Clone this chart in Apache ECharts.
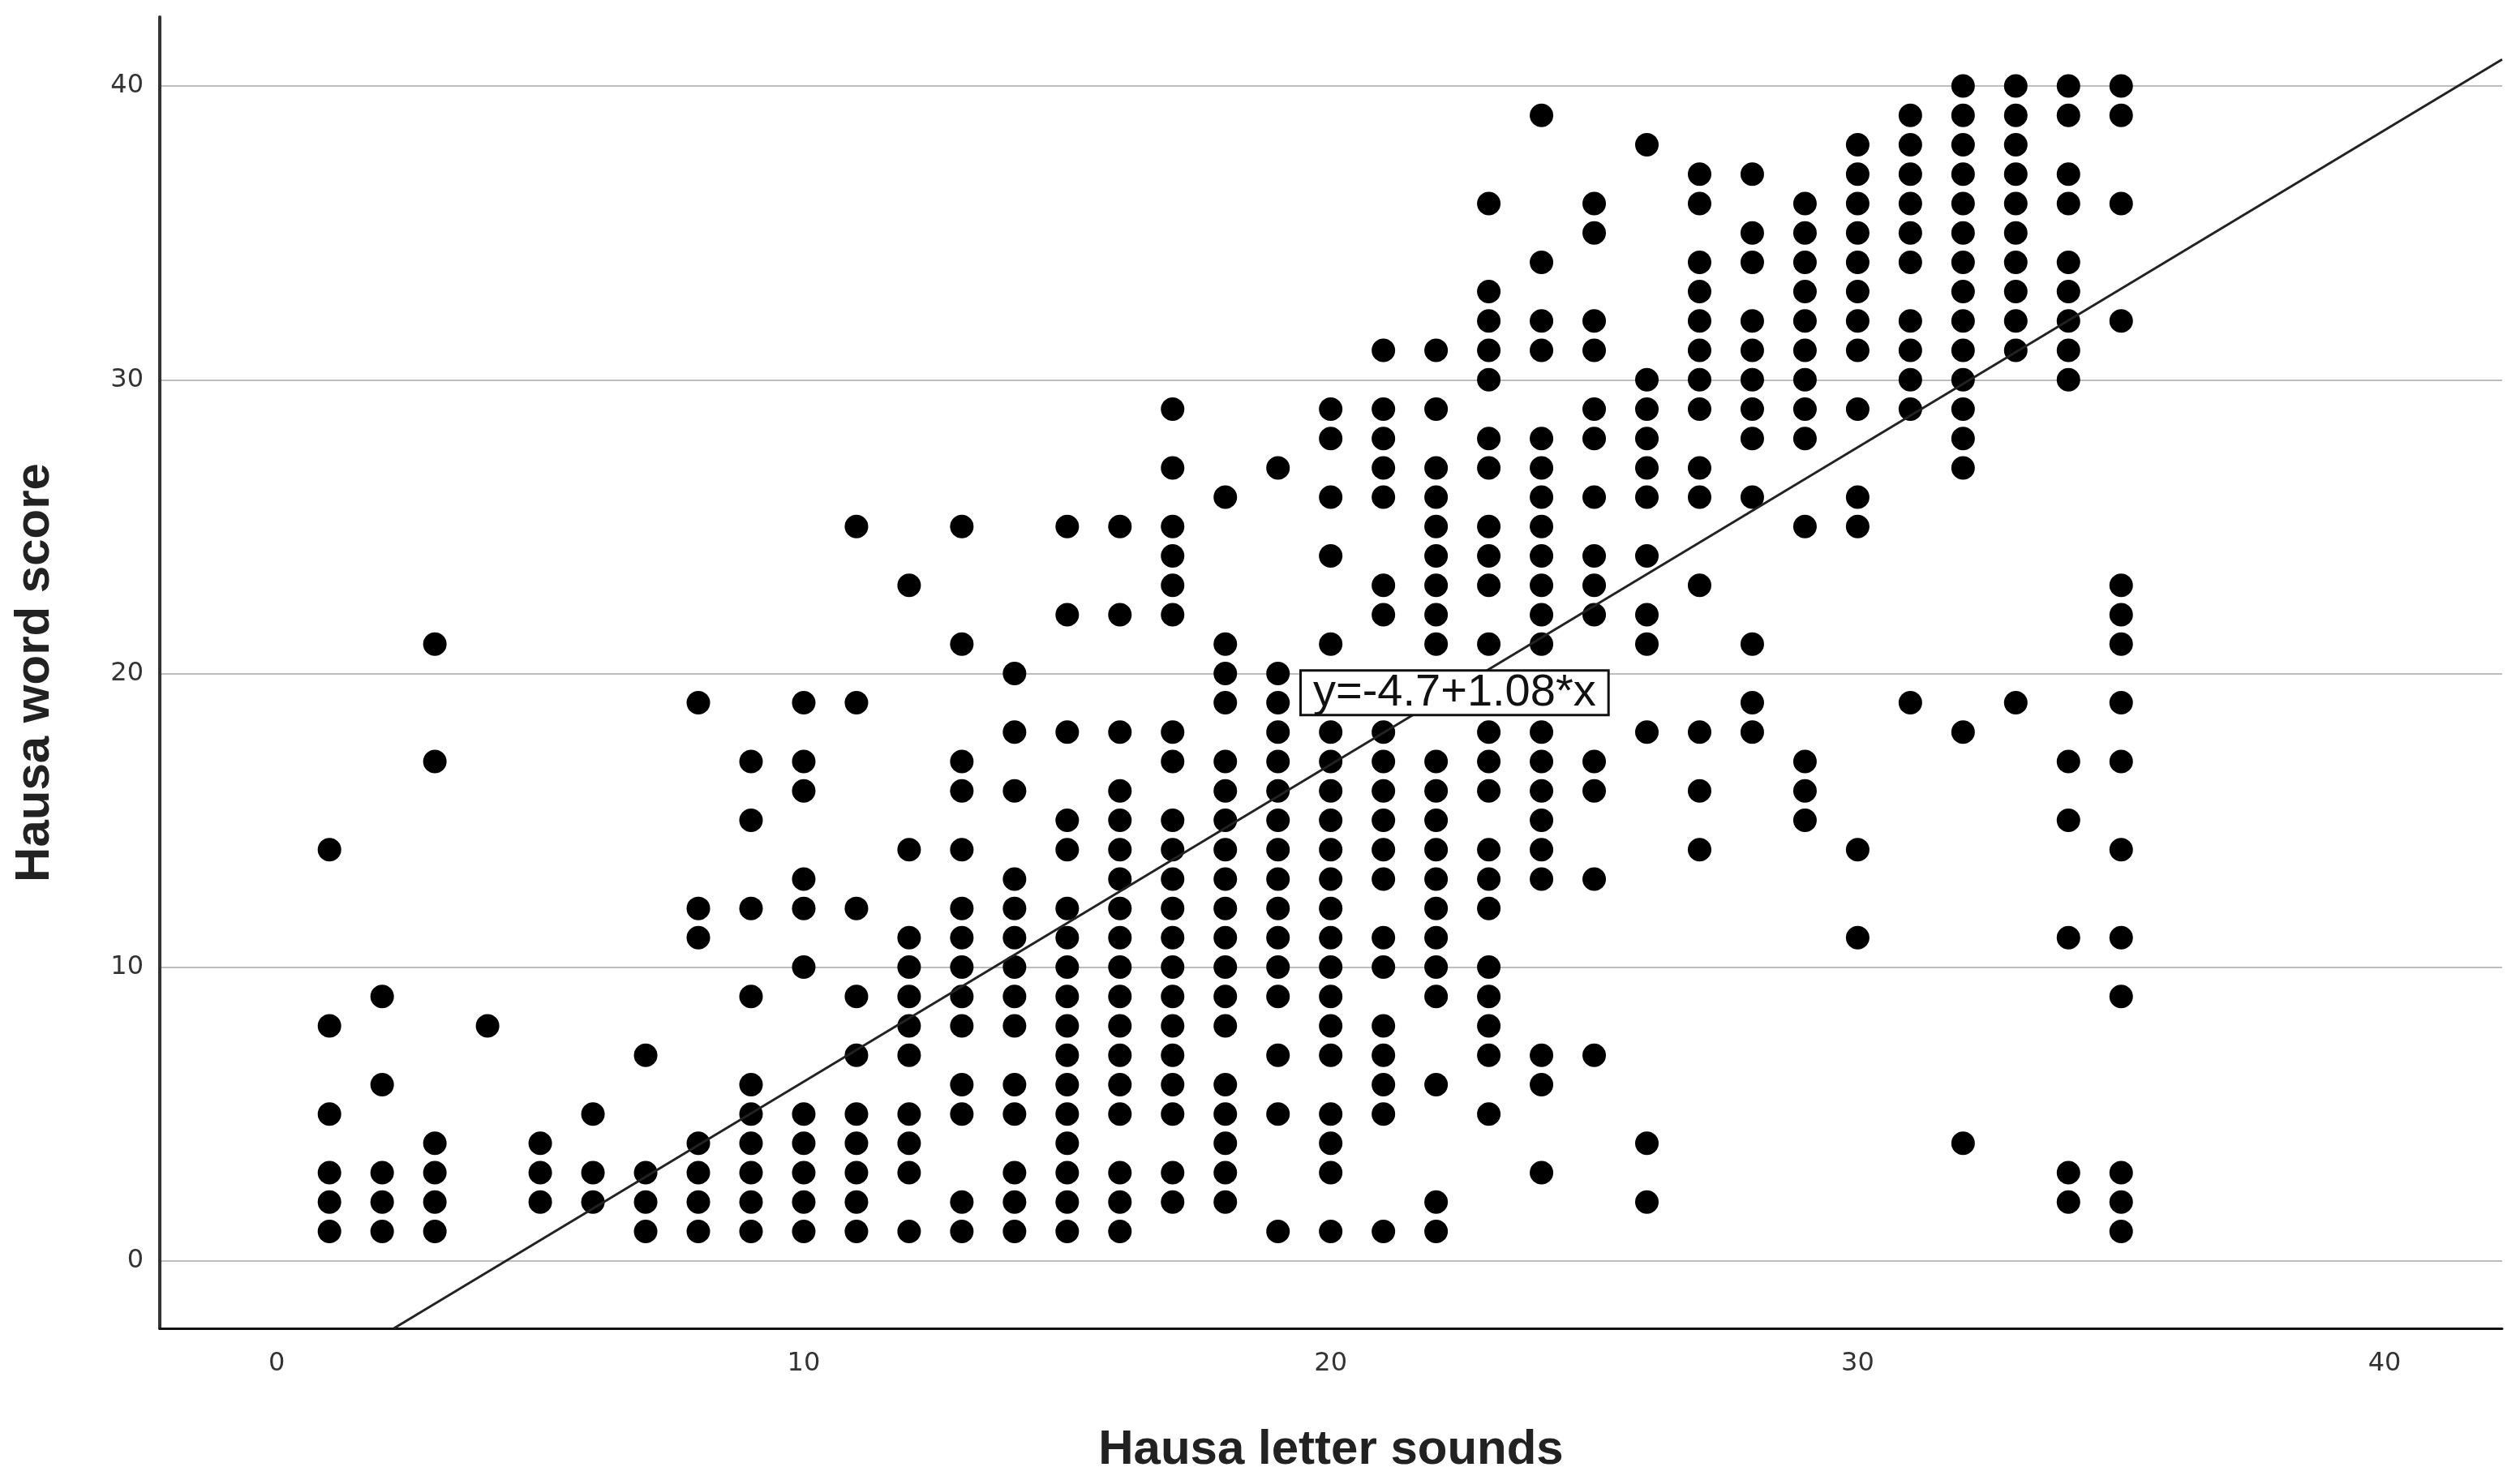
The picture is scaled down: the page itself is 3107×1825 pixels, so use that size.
<!DOCTYPE html>
<html>
<head>
<meta charset="utf-8">
<script src="https://cdn.jsdelivr.net/npm/echarts@6/dist/echarts.min.js"></script>
<style>
    html, body { margin: 0; padding: 0; background: #fff; }
    #box { width: 3107px; height: 1825px; }
</style>
</head>
<body>
<div id="box"></div>
<script>
// letter sounds (x) and, for each one, the word scores found in that column
var letterSounds = [1, 2, 3, 4, 5, 6, 7, 8, 9, 10, 11, 12, 13, 14, 15, 16, 17, 18,
    19, 20, 21, 22, 23, 24, 25, 26, 27, 28, 29, 30, 31, 32, 33, 34, 35];
var wordScores = [
    [14, 8, 5, 3, 2, 1],
    [9, 6, 3, 2, 1],
    [21, 17, 4, 3, 2, 1],
    [8],
    [4, 3, 2],
    [5, 3, 2],
    [7, 3, 2, 1],
    [19, 12, 11, 4, 3, 2, 1],
    [17, 15, 12, 9, 6, 5, 4, 3, 2, 1],
    [19, 17, 16, 13, 12, 10, 5, 4, 3, 2, 1],
    [25, 19, 12, 9, 7, 5, 4, 3, 2, 1],
    [23, 14, 11, 10, 9, 8, 7, 5, 4, 3, 1],
    [25, 21, 17, 16, 14, 12, 11, 10, 9, 8, 6, 5, 2, 1],
    [20, 18, 16, 13, 12, 11, 10, 9, 8, 6, 5, 3, 2, 1],
    [25, 22, 18, 15, 14, 12, 11, 10, 9, 8, 7, 6, 5, 4, 3, 2, 1],
    [25, 22, 18, 16, 15, 14, 13, 12, 11, 10, 9, 8, 7, 6, 5, 3, 2, 1],
    [29, 27, 25, 24, 23, 22, 18, 17, 15, 14, 13, 12, 11, 10, 9, 8, 7, 6, 5, 3, 2],
    [26, 21, 20, 19, 17, 16, 15, 14, 13, 12, 11, 10, 9, 8, 6, 5, 4, 3, 2],
    [27, 20, 19, 18, 17, 16, 15, 14, 13, 12, 11, 10, 9, 7, 5, 1],
    [29, 28, 26, 24, 21, 18, 17, 16, 15, 14, 13, 12, 11, 10, 9, 8, 7, 5, 4, 3, 1],
    [31, 29, 28, 27, 26, 23, 22, 18, 17, 16, 15, 14, 13, 11, 10, 8, 7, 6, 5, 1],
    [31, 29, 27, 26, 25, 24, 23, 22, 21, 17, 16, 15, 14, 13, 12, 11, 10, 9, 6, 2, 1],
    [36, 33, 32, 31, 30, 28, 27, 25, 24, 23, 21, 18, 17, 16, 14, 13, 12, 10, 9, 8, 7, 5],
    [39, 34, 32, 31, 28, 27, 26, 25, 24, 23, 22, 21, 18, 17, 16, 15, 14, 13, 7, 6, 3],
    [36, 35, 32, 31, 29, 28, 26, 24, 23, 22, 17, 16, 13, 7],
    [38, 30, 29, 28, 27, 26, 24, 22, 21, 18, 4, 2],
    [37, 36, 34, 33, 32, 31, 30, 29, 27, 26, 23, 18, 16, 14],
    [37, 35, 34, 32, 31, 30, 29, 28, 26, 21, 19, 18],
    [36, 35, 34, 33, 32, 31, 30, 29, 28, 25, 17, 16, 15],
    [38, 37, 36, 35, 34, 33, 32, 31, 29, 26, 25, 14, 11],
    [39, 38, 37, 36, 35, 34, 32, 31, 30, 29, 19],
    [40, 39, 38, 37, 36, 35, 34, 33, 32, 31, 30, 29, 28, 27, 18, 4],
    [40, 39, 38, 37, 36, 35, 34, 33, 32, 31, 19],
    [40, 39, 37, 36, 34, 33, 32, 31, 30, 17, 15, 11, 3, 2],
    [40, 39, 36, 32, 23, 22, 21, 19, 17, 14, 11, 9, 3, 2, 1]
];
var tickValues = [0, 10, 20, 30, 40];
var fitIntercept = -4.7;
var fitSlope = 1.08;
var fitLabel = 'y=-4.7+1.08*x';
var fitLabelAt = [22.35, 19.34];

var xMin = -2.22, xMax = 42.23;
var yMin = -2.3, yMax = 42.35;

var points = [];
for (var i = 0; i < letterSounds.length; i++) {
    for (var j = 0; j < wordScores[i].length; j++) {
        points.push([letterSounds[i], wordScores[i][j]]);
    }
}

// fit line from where it enters the bottom of the plot to the right edge
var xStart = (yMin - fitIntercept) / fitSlope;
var fitLine = [
    [xStart, fitIntercept + fitSlope * xStart],
    [xMax, fitIntercept + fitSlope * xMax]
];

var myChart = echarts.init(document.getElementById('box'));
var option = {
    backgroundColor: '#fff',
    animation: false,
    grid: {
        left: 197,
        right: 22,
        top: 21,
        bottom: 187,
        outerBoundsMode: 'none',
        containLabel: false
    },
    xAxis: {
        type: 'value',
        min: xMin,
        max: xMax,
        name: 'Hausa letter sounds',
        nameLocation: 'middle',
        nameGap: 120,
        nameTextStyle: {
            fontFamily: 'Liberation Sans',
            fontWeight: 'bold',
            fontSize: 60,
            color: '#222'
        },
        axisLine: {
            onZero: false,
            lineStyle: { color: '#111', width: 3 }
        },
        axisTick: { show: false, customValues: tickValues },
        axisLabel: {
            customValues: tickValues,
            margin: 28,
            fontFamily: 'DejaVu Sans',
            fontSize: 32,
            color: '#333'
        },
        splitLine: { show: false }
    },
    yAxis: {
        type: 'value',
        min: yMin,
        max: yMax,
        name: 'Hausa word score',
        nameLocation: 'middle',
        nameGap: 124,
        nameRotate: 90,
        nameTextStyle: {
            fontFamily: 'Liberation Sans',
            fontWeight: 'bold',
            fontSize: 60,
            color: '#222'
        },
        axisLine: {
            onZero: false,
            lineStyle: { color: '#333', width: 4 }
        },
        axisTick: { show: false, customValues: tickValues },
        axisLabel: {
            customValues: tickValues,
            margin: 20,
            fontFamily: 'DejaVu Sans',
            fontSize: 32,
            color: '#333'
        },
        splitLine: {
            show: true,
            lineStyle: { color: '#bdbdbd', width: 2 }
        }
    },
    series: [{
        name: 'scores',
        type: 'scatter',
        symbol: 'circle',
        symbolSize: 29,
        itemStyle: { color: '#000', opacity: 1 },
        data: points
    }, {
        name: 'fit',
        type: 'line',
        symbol: 'none',
        z: 3,
        lineStyle: { color: '#222', width: 3 },
        data: fitLine,
        markPoint: {
            symbol: 'rect',
            symbolSize: 0,
            silent: true,
            label: {
                show: true,
                position: 'inside',
                formatter: fitLabel,
                fontFamily: 'Liberation Sans',
                fontSize: 56,
                lineHeight: 48,
                color: '#111',
                backgroundColor: '#fff',
                borderColor: '#111',
                borderWidth: 3,
                padding: [2, 14]
            },
            data: [{ coord: fitLabelAt }]
        }
    }]
};
myChart.setOption(option);
</script>
</body>
</html>
